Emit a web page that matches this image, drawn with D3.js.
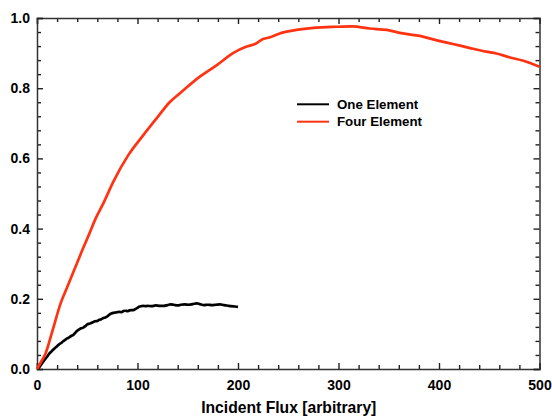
<!DOCTYPE html>
<meta charset="utf-8">
<script src="https://cdnjs.cloudflare.com/ajax/libs/d3/7.8.5/d3.min.js"></script>
<style>
  body { margin: 0; background: #fff; }
  text { font-family: "Liberation Sans", Arial, sans-serif; font-weight: bold; }
</style>
<div id="my_dataviz"></div>
<script>

// data
var oneX = [0, 2, 4, 6, 8, 10, 12, 14, 16, 18, 20, 22, 24, 26, 28, 30, 32, 34, 36, 38,
            40, 42, 44, 46, 48, 50, 52, 54, 56, 58, 60, 62, 64, 66, 68, 70, 72, 74, 76, 78,
            80, 82, 84, 86, 88, 90, 92, 94, 96, 98, 100, 102, 104, 106, 108, 110, 114, 118, 122, 126,
            130, 133, 136, 140, 143, 147, 151, 155, 159, 162, 166, 170, 174, 178, 182, 186, 189, 193, 197, 200];
var oneY = [0, 0.004, 0.012, 0.02, 0.028, 0.035, 0.043, 0.049, 0.055, 0.06, 0.065, 0.07, 0.074, 0.079, 0.083, 0.087, 0.09, 0.094, 0.097, 0.103,
            0.109, 0.113, 0.116, 0.118, 0.122, 0.127, 0.129, 0.131, 0.134, 0.136, 0.137, 0.14, 0.142, 0.145, 0.147, 0.15, 0.155, 0.158, 0.16, 0.161,
            0.162, 0.163, 0.162, 0.165, 0.166, 0.165, 0.167, 0.168, 0.168, 0.171, 0.174, 0.178, 0.179, 0.18, 0.179, 0.18, 0.179, 0.181, 0.18, 0.18,
            0.182, 0.184, 0.183, 0.181, 0.183, 0.184, 0.183, 0.185, 0.187, 0.185, 0.182, 0.183, 0.182, 0.183, 0.184, 0.182, 0.181, 0.179, 0.178, 0.177];

var fourX = [0, 4, 8.6, 15, 23.5, 30, 37, 45, 52, 58.4, 66, 76, 91, 106, 119, 132, 142, 162, 179, 195,
             208, 217, 225, 232, 241.5, 258, 275, 298, 314, 331, 348, 364, 381, 397, 414, 430, 447, 457, 470, 484, 500];
var fourY = [0, 0.02, 0.045, 0.105, 0.187, 0.233, 0.282, 0.338, 0.385, 0.429, 0.472, 0.534, 0.61, 0.667, 0.714, 0.76, 0.785, 0.833, 0.866, 0.9,
             0.918, 0.926, 0.94, 0.945, 0.956, 0.966, 0.972, 0.975, 0.976, 0.97, 0.966, 0.956, 0.949, 0.937, 0.926, 0.915, 0.904, 0.899, 0.888, 0.878, 0.861];

var seriesNames = ["One Element", "Four Element"];
var seriesColors = ["#000000", "#ff3311"];

var xTicks = [0, 100, 200, 300, 400, 500];
var yTicks = [0, 0.2, 0.4, 0.6, 0.8, 1.0];
var xTitle = "Incident Flux [arbitrary]";

// set the dimensions and margins of the graph
var margin = {top: 18, right: 12.5, bottom: 47, left: 37},
    width = 552 - margin.left - margin.right,
    height = 416 - margin.top - margin.bottom;

var svg = d3.select("#my_dataviz").append("svg")
    .attr("width", 552)
    .attr("height", 416)
  .append("g")
    .attr("transform", "translate(" + margin.left + "," + margin.top + ")");

var x = d3.scaleLinear().domain([0, 500]).range([0, width]);
var y = d3.scaleLinear().domain([0, 1]).range([height, 0]);

var xMinor = d3.range(0, 501, 20).filter(function(d) { return d % 100 !== 0; });
var yMinor = d3.range(0, 26).map(function(i) { return +(i * 0.04).toFixed(2); })
    .filter(function(d) { return Math.abs(d / 0.2 - Math.round(d / 0.2)) > 1e-6; });

// minor ticks (all four sides, pointing inward)
function minor(axis, vals, transform) {
  svg.append("g")
      .attr("class", "minor")
      .attr("transform", transform)
      .call(axis.tickValues(vals).tickSize(-4).tickFormat(""))
      .call(function(g) { g.select(".domain").remove(); });
}
minor(d3.axisBottom(x), xMinor, "translate(0," + height + ")");
minor(d3.axisTop(x), xMinor, "translate(0,0)");
minor(d3.axisLeft(y), yMinor, "translate(0,0)");
minor(d3.axisRight(y), yMinor, "translate(" + width + ",0)");

// major axes
svg.append("g")
    .attr("class", "axis")
    .attr("transform", "translate(0," + height + ")")
    .call(d3.axisBottom(x).tickValues(xTicks).tickSize(-6).tickPadding(11).tickFormat(d3.format("d")));
svg.append("g")
    .attr("class", "axis")
    .call(d3.axisTop(x).tickValues(xTicks).tickSize(-6).tickFormat(""));
svg.append("g")
    .attr("class", "axis")
    .call(d3.axisLeft(y).tickValues(yTicks).tickSize(-6).tickPadding(7).tickFormat(d3.format(".1f")));
svg.append("g")
    .attr("class", "axis")
    .attr("transform", "translate(" + width + ",0)")
    .call(d3.axisRight(y).tickValues(yTicks).tickSize(-6).tickFormat(""));

svg.selectAll(".axis .domain").attr("stroke", "#333").attr("stroke-width", 1.5);
svg.selectAll(".tick line").attr("stroke", "#222").attr("stroke-width", 1.4);
svg.selectAll(".axis text")
    .attr("fill", "#000")
    .style("font-size", "14px")
    .style("font-family", "'Liberation Sans', Arial, sans-serif")
    .style("font-weight", "bold");

// lines
var valueline = d3.line()
    .curve(d3.curveMonotoneX)
    .x(function(d) { return x(d[0]); })
    .y(function(d) { return y(d[1]); });

var series = [d3.zip(oneX, oneY), d3.zip(fourX, fourY)];

svg.selectAll(".line")
    .data(series)
  .enter().append("path")
    .attr("class", "line")
    .attr("d", valueline)
    .attr("stroke", function(d, i) { return seriesColors[i]; })
    .style("stroke-width", 2.7)
    .style("stroke-linejoin", "round")
    .style("fill", "none");

// x title
svg.append("text")
    .attr("x", width / 2 + 0.5)
    .attr("y", 413 - margin.top)
    .attr("text-anchor", "middle")
    .style("font-size", "15.7px")
    .text(xTitle);

// legend
var legend = svg.selectAll(".legend")
    .data(seriesNames)
  .enter().append("g")
    .attr("class", "legend")
    .attr("transform", function(d, i) { return "translate(" + (297 - margin.left) + "," + (104.3 + i * 17.4 - margin.top) + ")"; });

legend.append("line")
    .attr("x1", 0).attr("x2", 32)
    .attr("stroke", function(d, i) { return seriesColors[i]; })
    .style("stroke-width", 2);

legend.append("text")
    .attr("x", 40)
    .attr("y", 4.6)
    .style("font-size", "13.3px")
    .text(function(d) { return d; });

</script>
